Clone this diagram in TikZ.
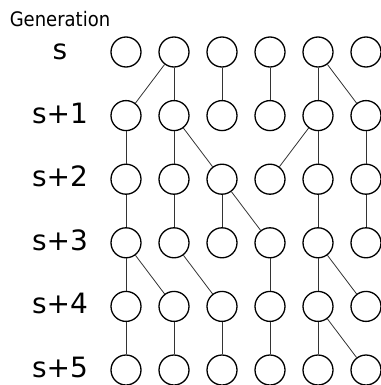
\documentclass[tikz,border=0pt]{standalone}
\usepackage{fontspec}
\setmainfont{DejaVu Sans}
\newfontfamily\condfont{DejaVu Sans Condensed}
\usetikzlibrary{positioning}

\begin{document}
\begin{tikzpicture}[
    x=1pt, y=-1pt,
    indiv/.style={draw, circle, line width=1.3pt, minimum size=30pt, inner sep=0pt, fill=white},
    genlabel/.style={anchor=base, font=\fontsize{28}{30}\selectfont, inner sep=0pt},
    link/.style={line width=0.8pt, draw=black!80}
]
\useasboundingbox (0,0) rectangle (380,385);

\node[anchor=base, inner sep=0pt, font=\condfont\fontsize{20}{22}\selectfont] (title) at (60,27) {Generation};

% individuals, one row per generation
\foreach \r/\lab in {0/s, 1/s+1, 2/s+2, 3/s+3, 4/s+4, 5/s+5} {
    \node[genlabel] (lab\r) at (60,52+63.6*\r+7.5) {\lab};
    \foreach \c in {1,...,6}
        \node[indiv] (g\r-\c) at (78+48*\c,52+63.6*\r) {};
}

% parent -> offspring links
\foreach \r/\p/\o in {0/2/1, 0/2/2, 0/3/3, 0/4/4, 0/5/5, 0/5/6,
                      1/1/1, 1/2/2, 1/2/3, 1/5/4, 1/5/5, 1/6/6,
                      2/1/1, 2/2/2, 2/3/3, 2/3/4, 2/5/5, 2/6/6,
                      3/1/1, 3/1/2, 3/2/3, 3/4/4, 3/5/5, 3/5/6,
                      4/1/1, 4/2/2, 4/3/3, 4/4/4, 4/5/5, 4/5/6} {
    \pgfmathtruncatemacro{\n}{\r+1}
    \draw[link] (g\r-\p) -- (g\n-\o);
}
\end{tikzpicture}
\end{document}
